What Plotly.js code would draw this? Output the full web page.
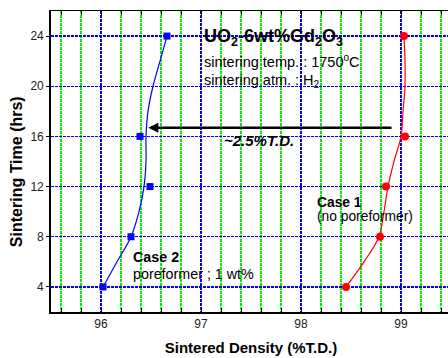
<!DOCTYPE html>
<html>
<head>
<meta charset="utf-8">
<script src="https://cdn.plot.ly/plotly-3.0.1.min.js"></script>
<style>html,body{margin:0;padding:0;background:#fff;overflow:hidden;width:448px;height:358px;}#chart{width:452px;height:358px;}</style>
</head>
<body>
<div id="chart"></div>
<script>
// Measured data points
const timeCase1 = [4, 8, 12, 16, 24];
const densityCase1 = [98.45, 98.79, 98.85, 99.04, 99.03];
const timeCase2 = [4, 8, 12, 16, 24];
const densityCase2 = [96.02, 96.30, 96.49, 96.39, 96.66];

// Fitted curves
const fitTime1 = [4, 6, 8, 10, 12, 14, 16, 18, 20, 22, 24];
const fitDensity1 = [98.45, 98.63, 98.78, 98.83, 98.87, 98.93, 99.00, 99.02, 99.04, 99.04, 99.03];
const fitTime2 = [4, 6, 8, 10, 12, 14, 16, 18, 20, 22, 24];
const fitDensity2 = [96.02, 96.16, 96.30, 96.38, 96.43, 96.45, 96.45, 96.47, 96.52, 96.59, 96.66];

const xTickVals = [96, 97, 98, 99];
const xTickText = ['96', '97', '98', '99'];
const yTickVals = [4, 8, 12, 16, 20, 24];
const yTickText = ['4', '8', '12', '16', '20', '24'];

const FONT = 'Liberation Sans, Arial, sans-serif';

const traces = [
  {x: fitDensity1, y: fitTime1, mode: 'lines', line: {color: '#ff0000', width: 1.2, shape: 'spline', smoothing: 1}, showlegend: false, hoverinfo: 'skip'},
  {x: fitDensity2, y: fitTime2, mode: 'lines', line: {color: '#0000ff', width: 1.2, shape: 'spline', smoothing: 1}, showlegend: false, hoverinfo: 'skip'},
  {x: densityCase1, y: timeCase1, mode: 'markers', name: 'Case 1', marker: {color: '#ff0000', size: 8, symbol: 'circle'}, showlegend: false},
  {x: densityCase2, y: timeCase2, mode: 'markers', name: 'Case 2', marker: {color: '#0000ff', size: 7, symbol: 'square'}, showlegend: false}
];

const layout = {
  width: 452, height: 358,
  margin: {l: 51, r: 1, t: 11, b: 46},
  paper_bgcolor: '#ffffff', plot_bgcolor: '#ffffff',
  font: {family: FONT, size: 12, color: '#000'},
  showlegend: false,
  xaxis: {
    range: [95.5, 99.5],
    tickmode: 'array', tickvals: xTickVals, ticktext: xTickText,
    ticks: 'inside', ticklen: 4, tickwidth: 1, tickcolor: '#000',
    showgrid: true, gridcolor: '#0000ff', gridwidth: 1.3, griddash: '3px,1px',
    minor: {dtick: 0.2, tick0: 95.6, ticks: 'inside', ticklen: 4, tickwidth: 1, tickcolor: '#000',
            showgrid: true, gridcolor: '#00ee00', gridwidth: 1.3, griddash: '3px,1px'},
    showline: true, linecolor: '#000', linewidth: 1.5, mirror: 'allticks',
    zeroline: false,
    tickfont: {family: FONT, size: 12, color: '#222'},
    title: {text: '<b>Sintered Density (%T.D.)</b>', font: {family: FONT, size: 15, color: '#000'}, standoff: 12}
  },
  yaxis: {
    range: [2, 26],
    tickmode: 'array', tickvals: yTickVals, ticktext: yTickText,
    ticks: 'outside', ticklen: 3, tickwidth: 1, tickcolor: '#000',
    showgrid: true, gridcolor: '#0000ff', gridwidth: 1.3, griddash: '3px,1px',
    showline: true, linecolor: '#000', linewidth: 1.8, mirror: 'ticks',
    zeroline: false,
    tickfont: {family: FONT, size: 12, color: '#222'}
  },
  annotations: [
    {xref: 'paper', yref: 'paper', x: -0.0875, y: 0.4646, textangle: -90, showarrow: false,
     text: '<b>Sintering Time (hrs)</b>', font: {family: FONT, size: 16, color: '#000'}, xanchor: 'center', yanchor: 'middle'},
    {x: 97.01, y: 23.9, xanchor: 'left', yanchor: 'middle', showarrow: false,
     text: '<b>UO<sub>2</sub>-6wt%Gd<sub>2</sub>O<sub>3</sub></b>', font: {family: FONT, size: 18, color: '#000'}},
    {x: 97.01, y: 22.0, xanchor: 'left', yanchor: 'middle', showarrow: false,
     text: 'sintering temp. : 1750<sup>o</sup>C', font: {family: FONT, size: 14.5, color: '#000'}},
    {x: 97.01, y: 20.4, xanchor: 'left', yanchor: 'middle', showarrow: false,
     text: 'sintering atm. : H<sub>2</sub>', font: {family: FONT, size: 14.5, color: '#000'}},
    {x: 96.473, y: 16.69, ax: 98.92, ay: 16.69, axref: 'x', ayref: 'y', text: '', showarrow: true,
     arrowhead: 2, arrowsize: 0.8, arrowwidth: 2.5, arrowcolor: '#000'},
    {x: 97.21, y: 15.7, xanchor: 'left', yanchor: 'middle', showarrow: false,
     text: '<b><i>~2.5%T.D.</i></b>', font: {family: FONT, size: 15, color: '#000'}},
    {x: 98.14, y: 10.75, xanchor: 'left', yanchor: 'middle', showarrow: false,
     text: '<b>Case 1</b>', font: {family: FONT, size: 13.8, color: '#000'}},
    {x: 98.14, y: 9.6, xanchor: 'left', yanchor: 'middle', showarrow: false,
     text: '(no poreformer)', font: {family: FONT, size: 13.8, color: '#000'}},
    {x: 96.30, y: 6.36, xanchor: 'left', yanchor: 'middle', showarrow: false,
     text: '<b>Case 2</b>', font: {family: FONT, size: 14.3, color: '#000'}},
    {x: 96.30, y: 5.06, xanchor: 'left', yanchor: 'middle', showarrow: false,
     text: 'poreformer ; 1 wt%', font: {family: FONT, size: 14.3, color: '#000'}}
  ]
};

Plotly.newPlot('chart', traces, layout, {displayModeBar: false, staticPlot: true});
</script>
</body>
</html>
